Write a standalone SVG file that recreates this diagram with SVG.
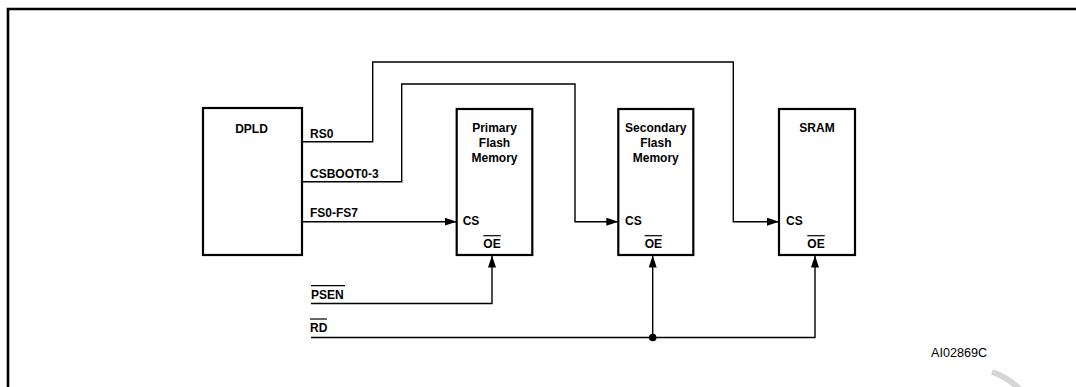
<svg xmlns="http://www.w3.org/2000/svg" width="1076" height="387" viewBox="0 0 1076 387">
<style>
.box{fill:#fff;stroke:#000;stroke-width:2.2}
.w{fill:none;stroke:#000;stroke-width:1.4}
.t{font-family:"Liberation Sans",Arial,sans-serif;font-weight:bold;font-size:12px;fill:#000}
.m{text-anchor:middle}
.ov{stroke:#000;stroke-width:1.2}
</style>
<defs>
<marker id="ah" markerUnits="userSpaceOnUse" markerWidth="13" markerHeight="9" refX="12" refY="4" orient="auto">
<path d="M0,0 L12,4 L0,8 z" fill="#000"/>
</marker>
</defs>
<rect width="1076" height="387" fill="#fff"/>
<path d="M8 387 V9 H1076" fill="none" stroke="#000" stroke-width="2.6"/>
<path d="M992 372 Q1010 378 1022 392" fill="none" stroke="#d6d6d6" stroke-width="6"/>
<g id="connectors">
<path class="w" d="M302 141.7 H372.7 V62 H733.3 V221.7 H779" marker-end="url(#ah)"/>
<path class="w" d="M302 181.7 H401.7 V84 H575 V221.7 H618.3" marker-end="url(#ah)"/>
<path class="w" d="M302 221.7 H456.7" marker-end="url(#ah)"/>
<path class="w" d="M311 303.5 H492 V255.5" marker-end="url(#ah)"/>
<path class="w" d="M311 337.5 H815 V255.5" marker-end="url(#ah)"/>
<path class="w" d="M652.7 337.5 V255.5" marker-end="url(#ah)"/>
<circle cx="652.7" cy="337.5" r="3.8" fill="#000"/>
</g>
<g id="dpld">
<rect class="box" x="203" y="108" width="99" height="147"/>
<text class="t m" x="251.5" y="132.7">DPLD</text>
<text class="t" x="310" y="137.7">RS0</text>
<text class="t" x="310" y="178.3">CSBOOT0-3</text>
<text class="t" x="310" y="216.7">FS0-FS7</text>
</g>
<g id="primary">
<rect class="box" x="456.7" y="109" width="75.6" height="146"/>
<text class="t m" x="494.5" y="132">Primary</text>
<text class="t m" x="494.5" y="147">Flash</text>
<text class="t m" x="494.5" y="162">Memory</text>
<text class="t" x="462.7" y="225">CS</text>
<text class="t m" x="492" y="247.7">OE</text>
<line class="ov" x1="483.3" y1="235.7" x2="500.7" y2="235.7"/>
</g>
<g id="secondary">
<rect class="box" x="618.3" y="109" width="75" height="146"/>
<text class="t m" x="655.8" y="132">Secondary</text>
<text class="t m" x="655.8" y="147">Flash</text>
<text class="t m" x="655.8" y="162">Memory</text>
<text class="t" x="625" y="225">CS</text>
<text class="t m" x="653.3" y="247.7">OE</text>
<line class="ov" x1="644.6" y1="235.7" x2="662" y2="235.7"/>
</g>
<g id="sram">
<rect class="box" x="779" y="109" width="76" height="146"/>
<text class="t m" x="817" y="132">SRAM</text>
<text class="t" x="786" y="225">CS</text>
<text class="t m" x="816" y="247.7">OE</text>
<line class="ov" x1="807.3" y1="235.7" x2="824.7" y2="235.7"/>
</g>
<g id="inputs">
<text class="t" x="311" y="299">PSEN</text>
<line class="ov" x1="311" y1="285.7" x2="345" y2="285.7"/>
<text class="t" x="310" y="331.7">RD</text>
<line class="ov" x1="310" y1="319" x2="327" y2="319"/>
</g>
<text x="931" y="357.3" font-family="'Liberation Sans',Arial,sans-serif" font-size="12" textLength="56" lengthAdjust="spacingAndGlyphs" fill="#000">AI02869C</text>
</svg>
